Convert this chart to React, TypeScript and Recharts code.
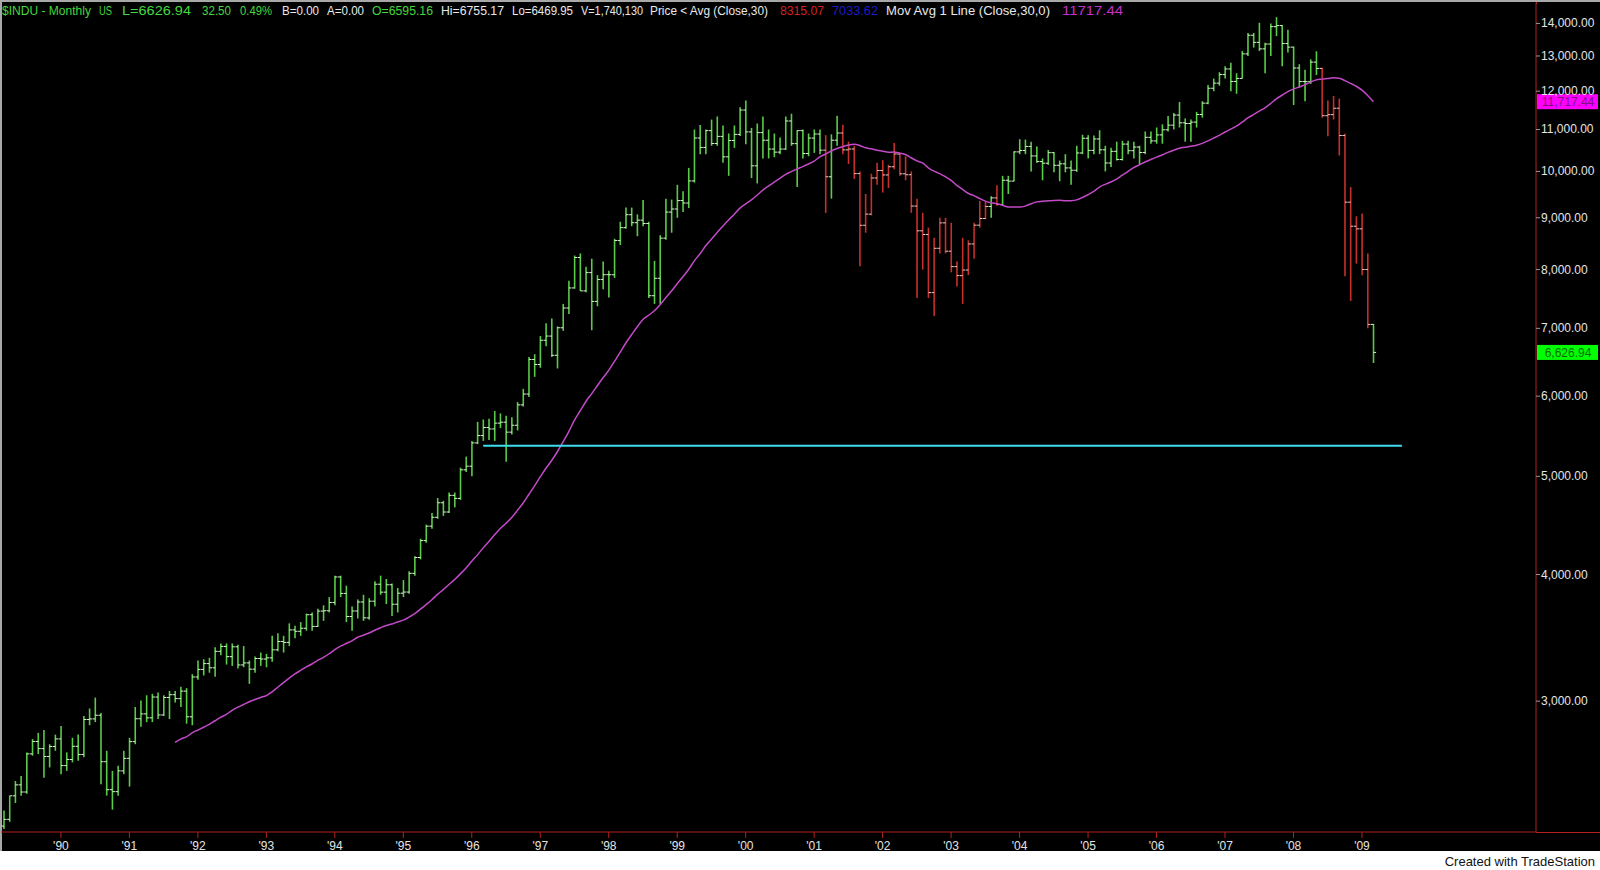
import React from 'react';
import { ComposedChart, Bar, Line, XAxis, YAxis, ReferenceLine } from 'recharts';

// ---- categories: monthly bars starting March 1989 (plus empty months to the right edge) ----
const START_YEAR = 1989;
const START_MONTH = 3;
const TOTAL_SLOTS = 269;

// ---- monthly OHLC of $INDU (Mar 1989 .. Mar 2009) ----
const opens = [
  2258, 2293, 2419, 2480, 2440, 2661, 2737, 2693, 2645, 2706,
  2753, 2591, 2627, 2707, 2657, 2877, 2881, 2905, 2614, 2453, 2442, 2560,
  2634, 2736, 2882, 2914, 2888, 3028, 2907, 3025, 3044, 3017, 3069, 2895,
  3169, 3224, 3267, 3236, 3359, 3397, 3319, 3394, 3257, 3272, 3226, 3305,
  3301, 3310, 3371, 3435, 3428, 3527, 3516, 3540, 3651, 3555, 3681, 3684,
  3754, 3978, 3832, 3636, 3682, 3758, 3625, 3765, 3913, 3843, 3908, 3739,
  3834, 3844, 4011, 4158, 4321, 4465, 4556, 4709, 4611, 4789, 4756, 5075,
  5117, 5395, 5486, 5587, 5569, 5643, 5655, 5529, 5616, 5882, 6029, 6522,
  6448, 6813, 6878, 6584, 7009, 7331, 7673, 8223, 7622, 7945, 7442, 7823,
  7908, 7907, 8546, 8800, 9063, 8900, 8952, 8883, 7539, 7843, 8592, 9117,
  9181, 9359, 9307, 9786, 10789, 10560, 10971, 10655, 10829, 10337, 10729, 10878,
  11497, 10940, 10128, 10922, 10734, 10522, 10448, 10522, 11215, 10651, 10971, 10415,
  10788, 10887, 10495, 9879, 10735, 10912, 10502, 10523, 9950, 8848, 9075, 9852,
  10022, 9920, 10106, 10404, 9946, 9925, 9243, 8737, 8664, 7592, 8397, 8896,
  8342, 8054, 7891, 7992, 8480, 8850, 8985, 9234, 9416, 9275, 9801, 9782,
  10454, 10488, 10584, 10358, 10226, 10188, 10435, 10140, 10174, 10080, 10027, 10428,
  10783, 10490, 10766, 10504, 10193, 10467, 10275, 10641, 10482, 10569, 10440, 10806,
  10718, 10865, 10993, 11109, 11367, 11168, 11150, 11186, 11381, 11679, 12081, 12222,
  12463, 12622, 12269, 12354, 13063, 13628, 13409, 13212, 13358, 13896, 13930, 13372,
  13265, 12650, 12266, 12263, 12820, 12638, 11350, 11378, 11544, 10851, 9325, 8829,
  8776, 8001, 7063,
];

const highs = [
  2340, 2420, 2502, 2531, 2670, 2752, 2791, 2810, 2720, 2780,
  2835, 2670, 2760, 2780, 2900, 2950, 3024, 2920, 2680, 2560, 2590, 2680,
  2760, 2960, 3004, 3040, 3050, 3060, 3040, 3070, 3070, 3100, 3090, 3190,
  3290, 3300, 3310, 3390, 3420, 3420, 3420, 3410, 3400, 3290, 3320, 3350,
  3340, 3480, 3500, 3480, 3580, 3560, 3590, 3660, 3670, 3700, 3730, 3800,
  3990, 3990, 3900, 3720, 3780, 3820, 3790, 3940, 3990, 3960, 3920, 3880,
  3950, 4030, 4170, 4340, 4480, 4600, 4760, 4730, 4820, 4820, 5100, 5230,
  5420, 5660, 5690, 5700, 5800, 5770, 5740, 5720, 5920, 6100, 6560, 6600,
  6880, 7080, 7160, 7030, 7400, 7800, 8260, 8300, 8050, 8200, 7900, 8150,
  7980, 8580, 8920, 9210, 9210, 9070, 9370, 8920, 8160, 8650, 9400, 9380,
  9700, 9560, 10080, 11000, 11110, 11000, 11250, 11330, 11100, 10900, 11100, 11570,
  11750, 11040, 11150, 11330, 11000, 10900, 10800, 11330, 11400, 10980, 11000, 10900,
  11000, 11000, 10860, 10880, 11350, 11120, 10700, 10600, 10000, 9500, 9950, 10200,
  10260, 10150, 10670, 10440, 10350, 10000, 9400, 9100, 8800, 8600, 9000, 9000,
  8900, 8150, 8600, 8550, 8900, 9350, 9330, 9450, 9690, 9900, 9900, 10470,
  10760, 10750, 10700, 10580, 10300, 10500, 10450, 10250, 10400, 10250, 10600, 10870,
  10860, 10850, 10980, 10600, 10550, 10700, 10720, 10720, 10700, 10600, 10950, 10950,
  11050, 11130, 11340, 11420, 11710, 11280, 11250, 11450, 11730, 12170, 12350, 12530,
  12700, 12800, 12500, 13150, 13700, 13700, 14020, 13400, 14000, 14200, 13950, 13800,
  13280, 12760, 12600, 12900, 13140, 12660, 11750, 11870, 11800, 10900, 9650, 9030,
  9090, 8300, 7070,
];

const lows = [
  2243, 2280, 2380, 2420, 2430, 2650, 2660, 2520, 2580, 2680,
  2540, 2560, 2610, 2620, 2640, 2840, 2860, 2483, 2420, 2344, 2420, 2540,
  2470, 2720, 2830, 2860, 2860, 2880, 2900, 2880, 2990, 2960, 2850, 2840,
  3150, 3180, 3200, 3170, 3330, 3260, 3250, 3230, 3240, 3120, 3200, 3250,
  3240, 3280, 3360, 3350, 3400, 3460, 3480, 3520, 3520, 3550, 3600, 3670,
  3730, 3800, 3590, 3520, 3620, 3600, 3610, 3720, 3820, 3740, 3640, 3670,
  3800, 3830, 3990, 4140, 4300, 4440, 4540, 4570, 4600, 4660, 4740, 5050,
  5000, 5380, 5420, 5430, 5420, 5580, 5170, 5500, 5550, 5860, 5990, 6270,
  6400, 6720, 6560, 6390, 6960, 7230, 7660, 7620, 7600, 6970, 7360, 7650,
  7510, 7850, 8460, 8780, 8830, 8630, 8830, 7500, 7400, 7400, 8560, 8700,
  9000, 9120, 9200, 9750, 10400, 10400, 10600, 10600, 10200, 9900, 10550, 10840,
  10640, 9850, 9730, 10300, 10300, 10330, 10400, 10500, 10600, 9650, 10300, 10350,
  10430, 10400, 9100, 9400, 10600, 10400, 10170, 9830, 8060, 8700, 9050, 9700,
  9530, 9630, 10050, 9900, 9800, 9100, 7500, 8000, 7500, 7200, 8300, 8300,
  7950, 7700, 7400, 7900, 8200, 8800, 8970, 9000, 9250, 9250, 9500, 9780,
  10400, 10400, 10000, 10200, 9800, 10150, 9980, 9780, 9980, 9700, 9990, 10400,
  10300, 10400, 10400, 10000, 10100, 10250, 10250, 10400, 10300, 10150, 10400, 10650,
  10650, 10650, 10950, 11000, 11050, 10700, 10700, 11050, 11300, 11650, 12000, 12150,
  12350, 12000, 11930, 12350, 13000, 13250, 13150, 12500, 13000, 13600, 12700, 13100,
  11630, 12100, 11730, 12200, 12450, 11300, 10830, 11250, 10370, 7880, 7450, 8110,
  7900, 7000, 6470,
];

const closes = [
  2293, 2419, 2480, 2440, 2661, 2737, 2693, 2645, 2706, 2753,
  2591, 2627, 2707, 2657, 2877, 2881, 2905, 2614, 2453, 2442, 2560, 2634,
  2736, 2882, 2914, 2888, 3028, 2907, 3025, 3044, 3017, 3069, 2895, 3169,
  3224, 3267, 3236, 3359, 3397, 3319, 3394, 3257, 3272, 3226, 3305, 3301,
  3310, 3371, 3435, 3428, 3527, 3516, 3540, 3651, 3555, 3681, 3684, 3754,
  3978, 3832, 3636, 3682, 3758, 3625, 3765, 3913, 3843, 3908, 3739, 3834,
  3844, 4011, 4158, 4321, 4465, 4556, 4709, 4611, 4789, 4756, 5075, 5117,
  5395, 5486, 5587, 5569, 5643, 5655, 5529, 5616, 5882, 6029, 6522, 6448,
  6813, 6878, 6584, 7009, 7331, 7673, 8223, 7622, 7945, 7442, 7823, 7908,
  7907, 8546, 8800, 9063, 8900, 8952, 8883, 7539, 7843, 8592, 9117, 9181,
  9359, 9307, 9786, 10789, 10560, 10971, 10655, 10829, 10337, 10729, 10878, 11497,
  10940, 10128, 10922, 10734, 10522, 10448, 10522, 11215, 10651, 10971, 10415, 10788,
  10887, 10495, 9879, 10735, 10912, 10502, 10523, 9950, 8848, 9075, 9852, 10022,
  9920, 10106, 10404, 9946, 9925, 9243, 8737, 8664, 7592, 8397, 8896, 8342,
  8054, 7891, 7992, 8480, 8850, 8985, 9234, 9416, 9275, 9801, 9782, 10454,
  10488, 10584, 10358, 10226, 10188, 10435, 10140, 10174, 10080, 10027, 10428, 10783,
  10490, 10766, 10504, 10193, 10467, 10275, 10641, 10482, 10569, 10440, 10806, 10718,
  10865, 10993, 11109, 11367, 11168, 11150, 11186, 11381, 11679, 12081, 12222, 12463,
  12622, 12269, 12354, 13063, 13628, 13409, 13212, 13358, 13896, 13930, 13372, 13265,
  12650, 12266, 12263, 12820, 12638, 11350, 11378, 11544, 10851, 9325, 8829, 8776,
  8001, 7063, 6626.94,
];

// ---- Mov Avg 1 Line (Close,30,0): values from Sep 1991 (bar index 30) onward ----
const MA_START = 30;
const maValues = [
  2731, 2752, 2766, 2791, 2809, 2827, 2845, 2869, 2892, 2911,
  2938, 2959, 2977, 2996, 3011, 3025, 3038, 3063, 3096, 3129, 3161, 3191,
  3217, 3243, 3264, 3291, 3313, 3341, 3373, 3399, 3420, 3440, 3469, 3484,
  3502, 3524, 3544, 3562, 3574, 3591, 3606, 3631, 3660, 3697, 3736, 3777,
  3824, 3865, 3910, 3955, 4006, 4060, 4122, 4183, 4250, 4313, 4379, 4442,
  4494, 4553, 4628, 4706, 4798, 4893, 4994, 5093, 5184, 5288, 5407, 5535,
  5681, 5802, 5928, 6032, 6144, 6256, 6362, 6493, 6627, 6771, 6898, 7026,
  7142, 7211, 7286, 7387, 7503, 7620, 7748, 7871, 8001, 8160, 8294, 8445,
  8573, 8705, 8830, 8954, 9072, 9199, 9290, 9374, 9473, 9583, 9673, 9757,
  9844, 9933, 9995, 10059, 10109, 10170, 10237, 10336, 10404, 10475, 10535, 10579,
  10618, 10639, 10608, 10551, 10527, 10495, 10471, 10447, 10449, 10423, 10391, 10316,
  10243, 10194, 10083, 10005, 9951, 9881, 9798, 9687, 9599, 9516, 9464, 9404,
  9348, 9312, 9292, 9261, 9224, 9222, 9221, 9242, 9292, 9331, 9342, 9356,
  9363, 9365, 9354, 9357, 9374, 9425, 9484, 9554, 9651, 9711, 9763, 9827,
  9914, 10000, 10086, 10151, 10216, 10274, 10329, 10381, 10442, 10494, 10541, 10564,
  10587, 10614, 10658, 10720, 10787, 10855, 10938, 11008, 11083, 11185, 11291, 11379,
  11469, 11556, 11669, 11793, 11890, 11990, 12057, 12116, 12173, 12252, 12313, 12334,
  12351, 12370, 12361, 12293, 12215, 12136, 12030, 11886, 11717.44,
];

// ---- axis ticks / markers ----
const yTicks = [3000, 4000, 5000, 6000, 7000, 8000, 9000, 10000, 11000, 12000, 13000, 14000];
const Y_DOMAIN: [number, number] = [2228, 14664];
const SUPPORT_LEVEL = 5360;
const SUPPORT_FROM = 84; // Mar 1996
const SUPPORT_TO = 245; // Aug 2009
const LAST_CLOSE = 6626.94;
const LAST_MA = 11717.44;

const GREEN = '#5acb48';
const RED = '#c5302b';
const AXIS_RED = '#b3201e';
const MA_COLOR = '#c24ac8';
const CYAN = '#3fdcee';
const FONT = '"Liberation Sans", Arial, sans-serif';

const pad2 = (n: number) => (n < 10 ? '0' + n : '' + n);
const categories: string[] = [];
for (let k = 0; k < TOTAL_SLOTS; k++) {
  const mi = START_MONTH - 1 + k;
  categories.push(`${START_YEAR + Math.floor(mi / 12)}-${pad2((mi % 12) + 1)}`);
}

const lastIdx = closes.length - 1;
const data = categories.map((m, i) => {
  const has = i <= lastIdx;
  const ma = i >= MA_START && i - MA_START < maValues.length ? maValues[i - MA_START] : null;
  return {
    m,
    range: has ? [lows[i], highs[i]] : null,
    o: has ? opens[i] : null,
    h: has ? highs[i] : null,
    l: has ? lows[i] : null,
    c: has ? closes[i] : null,
    ma,
    down: has && ma != null && closes[i] < ma && i < lastIdx,
  };
});

const OhlcShape = (props: any) => {
  const { x, y, width, height, payload } = props;
  if (!payload || payload.h == null || x == null || y == null) return null;
  const top = Math.min(y, y + height);
  const bot = Math.max(y, y + height);
  const lh = Math.log(payload.h);
  const ll = Math.log(payload.l);
  const span = lh - ll || 1;
  const at = (v: number) => top + ((bot - top) * (lh - Math.log(v))) / span;
  const cx = x + width / 2;
  const col = payload.down ? RED : GREEN;
  const tickCol = payload.down ? '#f0c8c8' : '#d8f5d0';
  const yo = at(payload.o);
  const yc = at(payload.c);
  return (
    <g>
      <line x1={cx} x2={cx} y1={top} y2={bot} stroke={col} strokeWidth={1.6} />
      <line x1={cx - 2.6} x2={cx} y1={yo} y2={yo} stroke={tickCol} strokeWidth={1} />
      <line x1={cx} x2={cx + 2.6} y1={yc} y2={yc} stroke={tickCol} strokeWidth={1} />
    </g>
  );
};

const fmtPrice = (v: number) =>
  v.toLocaleString('en-US', { minimumFractionDigits: 2, maximumFractionDigits: 2 });

const YTick = (props: any) => {
  const { x, y, payload } = props;
  return (
    <g>
      <line x1={x} x2={x + 4} y1={y} y2={y} stroke="#9a9a9a" strokeWidth={1} />
      <text x={x + 5} y={y + 4} fill="#e4e4e4" fontSize={12} fontFamily={FONT}>
        {fmtPrice(payload.value)}
      </text>
    </g>
  );
};

const XTick = (props: any) => {
  const { x, y, payload } = props;
  const v: string = payload.value;
  if (!v.endsWith('-01')) return null;
  const yr = v.slice(2, 4);
  const i = categories.indexOf(v);
  if (i > lastIdx) return null;
  return (
    <g>
      <line x1={x} x2={x} y1={y} y2={y + 6} stroke={AXIS_RED} strokeWidth={1} />
      <text x={x} y={y + 18} fill="#e4e4e4" fontSize={12} fontFamily={FONT} textAnchor="middle">
        {`'${yr}`}
      </text>
    </g>
  );
};

const Badge = (props: any) => {
  const { viewBox, text, bg, fg } = props;
  if (!viewBox) return null;
  const bx = viewBox.x + viewBox.width + 1;
  const by = viewBox.y;
  return (
    <g>
      <rect x={bx} y={by - 7.5} width={61} height={15} fill={bg} />
      <text x={bx + 31} y={by + 4.5} fill={fg} fontSize={12} fontFamily={FONT} textAnchor="middle">
        {text}
      </text>
    </g>
  );
};

const G = '#44d83c';
const W = '#e8e8e8';
const HEADER = [
  { t: '$INDU - Monthly', x: 2, w: 89, c: G },
  { t: 'US', x: 99, w: 13, c: G },
  { t: 'L=6626.94', x: 122, w: 69, c: G },
  { t: '32.50', x: 202, w: 29, c: G },
  { t: '0.49%', x: 240, w: 32, c: G },
  { t: 'B=0.00', x: 282, w: 37, c: W },
  { t: 'A=0.00', x: 327, w: 37, c: W },
  { t: 'O=6595.16', x: 372, w: 61, c: G },
  { t: 'Hi=6755.17', x: 441, w: 63, c: W },
  { t: 'Lo=6469.95', x: 512, w: 61, c: W },
  { t: 'V=1,740,130', x: 581, w: 62, c: W },
  { t: 'Price < Avg (Close,30)', x: 650, w: 118, c: W },
  { t: '8315.07', x: 780, w: 44, c: '#d42020' },
  { t: '7033.62', x: 832, w: 46, c: '#1c1cc8' },
  { t: 'Mov Avg 1 Line (Close,30,0)', x: 886, w: 164, c: W },
  { t: '11717.44', x: 1062, w: 61, c: '#c232d0' },
];

export default function App() {
  return (
    <div style={{ position: 'absolute', left: 0, top: 0, width: 1600, height: 870, background: '#ffffff', overflow: 'hidden' }}>
      <div style={{ position: 'absolute', left: 0, top: 0, width: 1600, height: 851, background: '#000000' }} />
      <div style={{ position: 'absolute', left: 0, top: 0, width: 1600, height: 2, background: '#a8a8a8' }} />
      <div style={{ position: 'absolute', left: 0, top: 0, width: 2, height: 851, background: '#a8a8a8' }} />
      <div style={{ position: 'absolute', left: 1536, top: 832, width: 64, height: 1, background: AXIS_RED }} />
      <div style={{ position: 'absolute', left: 1536, top: 2, width: 1, height: 2, background: AXIS_RED }} />
      <div style={{ position: 'absolute', left: 0, top: 0 }}>
        <ComposedChart
          width={1600}
          height={870}
          data={data}
          margin={{ top: 3, right: 0, left: 1, bottom: 0 }}
          barCategoryGap={0}
        >
          <XAxis
            dataKey="m"
            interval={0}
            height={38}
            tickSize={0}
            tickMargin={0}
            axisLine={{ stroke: AXIS_RED, strokeWidth: 1 }}
            tickLine={false}
            tick={<XTick />}
          />
          <YAxis
            orientation="right"
            scale="log"
            domain={Y_DOMAIN}
            allowDataOverflow
            ticks={yTicks}
            width={64}
            tickSize={0}
            tickMargin={0}
            axisLine={{ stroke: AXIS_RED, strokeWidth: 1 }}
            tickLine={false}
            tick={<YTick />}
          />
          <Bar dataKey="range" shape={<OhlcShape />} isAnimationActive={false} />
          <Line
            dataKey="ma"
            type="monotone"
            stroke={MA_COLOR}
            strokeWidth={1.5}
            dot={false}
            activeDot={false}
            isAnimationActive={false}
          />
          <ReferenceLine
            segment={[
              { x: categories[SUPPORT_FROM], y: SUPPORT_LEVEL },
              { x: categories[SUPPORT_TO], y: SUPPORT_LEVEL },
            ]}
            stroke={CYAN}
            strokeWidth={2}
          />
          <ReferenceLine
            y={LAST_MA}
            stroke="none"
            strokeOpacity={0}
            label={<Badge text={fmtPrice(LAST_MA)} bg="#ff00ff" fg="#7a1280" />}
          />
          <ReferenceLine
            y={LAST_CLOSE}
            stroke="none"
            strokeOpacity={0}
            label={<Badge text={fmtPrice(LAST_CLOSE)} bg="#00ff00" fg="#0a6a0a" />}
          />
        </ComposedChart>
      </div>
      <svg width={1600} height={24} style={{ position: 'absolute', left: 0, top: 0 }}>
        {HEADER.map((h) => (
          <text
            key={h.t}
            x={h.x}
            y={15}
            fill={h.c}
            fontSize={12.5}
            fontFamily={FONT}
            textLength={h.w}
            lengthAdjust="spacingAndGlyphs"
          >
            {h.t}
          </text>
        ))}
      </svg>
      <div
        style={{
          position: 'absolute',
          right: 5,
          top: 854,
          fontFamily: FONT,
          fontSize: 13,
          color: '#111111',
          whiteSpace: 'nowrap',
        }}
      >
        Created with TradeStation
      </div>
    </div>
  );
}
